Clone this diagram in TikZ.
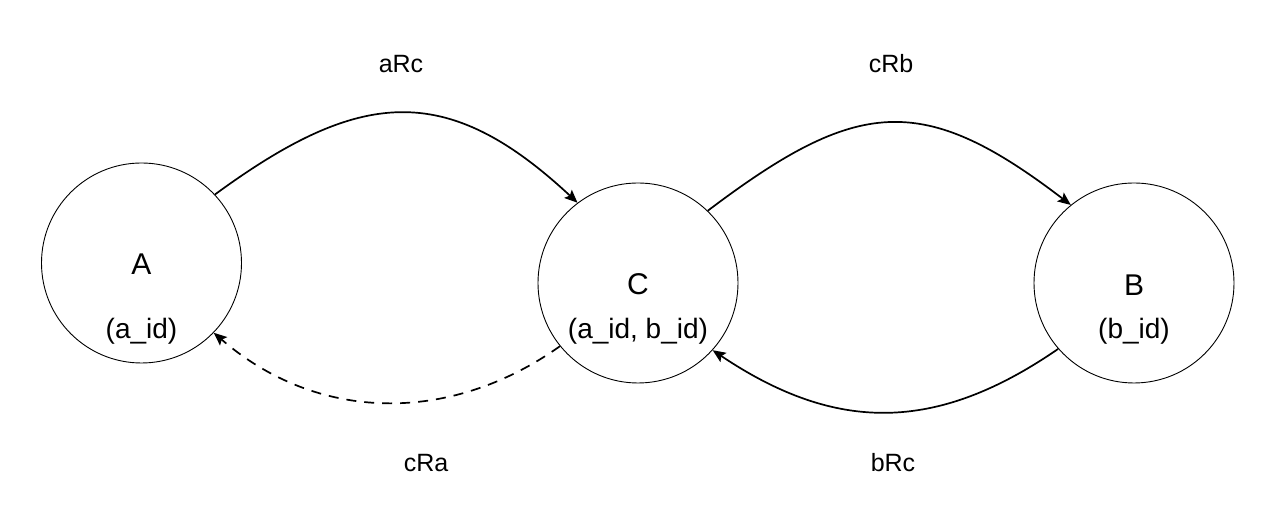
\documentclass[tikz,border=0pt]{standalone}
\usepackage{fontspec}
\setmainfont{Liberation Sans}
\usetikzlibrary{arrows.meta}
\begin{document}
\begin{tikzpicture}[x=1pt,y=1pt,
  entity/.style={circle,draw=black,line width=0.9pt,minimum size=200pt,inner sep=0pt},
  letter/.style={font=\fontsize{30}{36}\selectfont},
  ids/.style={font=\fontsize{28}{34}\selectfont},
  rel/.style={font=\fontsize{25}{30}\selectfont},
  edge/.style={line width=1.7pt,-{Stealth[length=13pt,width=11pt,inset=2.5pt]}},
  dashededge/.style={edge,dash pattern=on 10pt off 8pt}]
\useasboundingbox (0,0) rectangle (1262,518);
\node[entity] (A) at (141.5,255) {};
\node[entity] (C) at (638,235) {};
\node[entity] (B) at (1134,235) {};
\node[letter] (Al) at (141.5,254) {A};
\node[letter] (Cl) at (638,234) {C};
\node[letter] (Bl) at (1134,233) {B};
\node[ids] (Ai) at (141.5,187) {(a\_id)};
\node[ids] (Ci) at (638,187) {(a\_id, b\_id)};
\node[ids] (Bi) at (1134,187) {(b\_id)};
\node[rel] (aRc) at (401,454) {aRc};
\node[rel] (cRb) at (891,454) {cRb};
\node[rel] (cRa) at (426,55) {cRa};
\node[rel] (bRc) at (893,55) {bRc};
\draw[edge] (A.43) .. controls (359,429) and (446,438) .. (C.127.7);
\draw[edge] (C.46) .. controls (857,420) and (922,427) .. (B.129);
\draw[edge] (B.221.5) .. controls (936,85) and (836,85) .. (C.-42);
\draw[dashededge] (C.219) .. controls (449,93) and (317,96) .. (A.-44);
\end{tikzpicture}
\end{document}
